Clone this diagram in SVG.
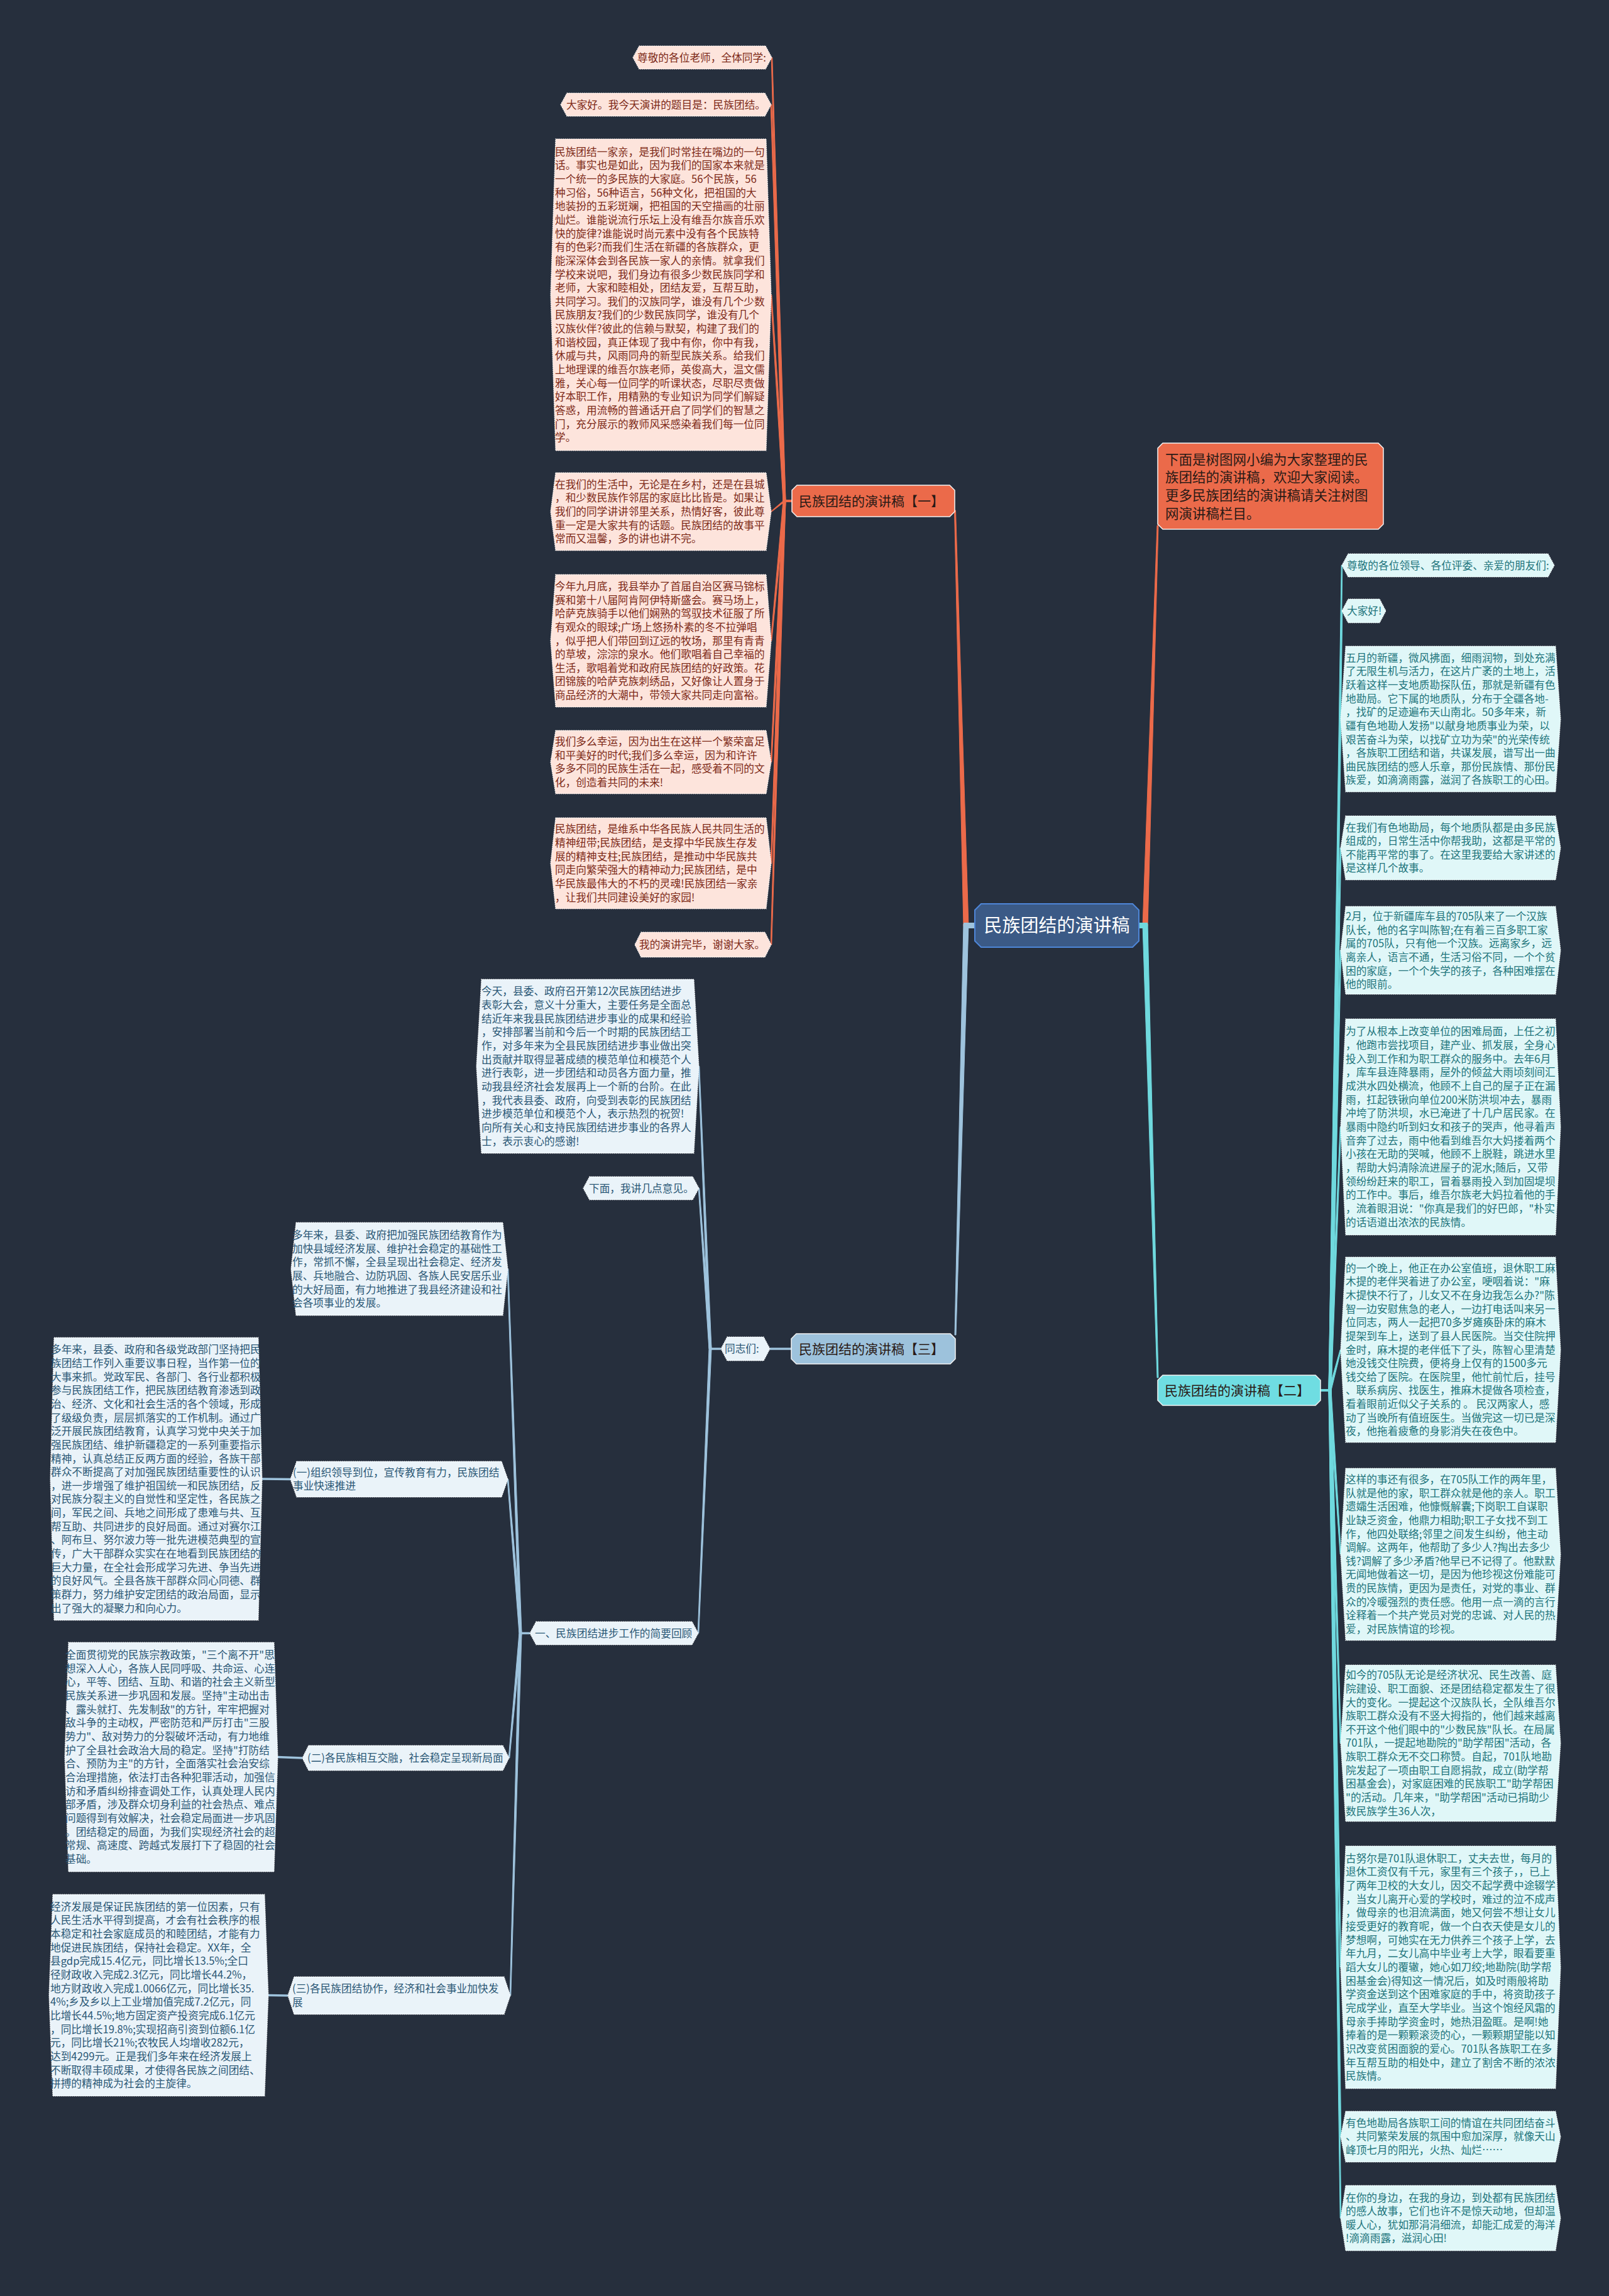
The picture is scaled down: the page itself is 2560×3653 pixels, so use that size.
<svg xmlns="http://www.w3.org/2000/svg" width="2560" height="3653" viewBox="0 0 2560 3653">
<style>
text{font-family:"Noto Sans CJK SC","Noto Sans",sans-serif}
.bgc{fill:#262f3d}
.lf1{fill:#fde4dc;stroke:#ffffff;stroke-width:1.2;stroke-dasharray:1.5 1.5}
.lf2{fill:#e0f7f8;stroke:#ffffff;stroke-width:1.2;stroke-dasharray:1.5 1.5}
.lf3{fill:#eaf3f9;stroke:#ffffff;stroke-width:1.2;stroke-dasharray:1.5 1.5}
.t1{font-size:16.7px;fill:#7e2a18}
.t2{font-size:16.7px;fill:#21757c}
.t3{font-size:16.7px;fill:#2b5876}
.mo{fill:#eb6a4a;stroke:#f4f4f4;stroke-width:1.5}
.mc{fill:#6fdde2;stroke:#f4f4f4;stroke-width:1.5}
.mb{fill:#9dc2dc;stroke:#f4f4f4;stroke-width:1.5}
.mt{font-size:21px;fill:#2a1a16}
.co{fill:#eb6a4a;stroke:#eb6a4a;stroke-width:1}
.cc{fill:#6fd9de;stroke:#6fd9de;stroke-width:1}
.cb{fill:#9ec3dd;stroke:#9ec3dd;stroke-width:1}
.sb{stroke:#9ec3dd;stroke-width:3.5;fill:none}
</style>
<rect class="bgc" x="0" y="0" width="2560" height="3653"/>
<g id="connectors">
<polygon class="co" points="1533,1474 1541,1474 1520.5,812 1518.5,812"/>
<polygon class="cb" points="1533,1470 1541,1470 1521,2124 1519,2124"/>
<polygon class="co" points="1818,1474 1826,1474 1843,836 1841,836"/>
<polygon class="cc" points="1818,1470 1826,1470 1843,2192 1841,2192"/>
<rect x="1533" y="1468" width="19" height="9" fill="#9ec3dd"/>
<rect x="1811" y="1468" width="15" height="9" fill="#6fd9de"/>
<rect x="1245" y="795" width="16" height="4" fill="#eb6a4a"/>
<polygon class="co" points="1246,797 1250,797 1228.8,91.5 1227.2,91.5"/>
<polygon class="co" points="1246,797 1250,797 1227.8,166.5 1226.2,166.5"/>
<polygon class="co" points="1246,797 1250,797 1227.8,469 1226.2,469"/>
<polygon class="co" points="1246,797 1250,797 1227.8,814 1226.2,814"/>
<polygon class="co" points="1246,797 1250,797 1227.8,1019.5 1226.2,1019.5"/>
<polygon class="co" points="1246,797 1250,797 1227.8,1212.5 1226.2,1212.5"/>
<polygon class="co" points="1246,797 1250,797 1227.8,1373.5 1226.2,1373.5"/>
<polygon class="co" points="1246,797 1250,797 1227.8,1503 1226.2,1503"/>
<rect x="2100" y="2210" width="18" height="4" fill="#6fd9de"/>
<polygon class="cc" points="2114,2212 2118,2212 2135.8,899.5 2134.2,899.5"/>
<polygon class="cc" points="2114,2212 2118,2212 2135.8,972 2134.2,972"/>
<polygon class="cc" points="2114,2212 2118,2212 2133.8,1144 2132.2,1144"/>
<polygon class="cc" points="2114,2212 2118,2212 2133.8,1349 2132.2,1349"/>
<polygon class="cc" points="2114,2212 2118,2212 2133.8,1512 2132.2,1512"/>
<polygon class="cc" points="2114,2212 2118,2212 2133.8,1793 2132.2,1793"/>
<polygon class="cc" points="2114,2212 2118,2212 2133.8,2147.5 2132.2,2147.5"/>
<polygon class="cc" points="2114,2212 2118,2212 2133.8,2473 2132.2,2473"/>
<polygon class="cc" points="2114,2212 2118,2212 2133.8,2773.5 2132.2,2773.5"/>
<polygon class="cc" points="2114,2212 2118,2212 2133.8,3130 2132.2,3130"/>
<polygon class="cc" points="2114,2212 2118,2212 2133.8,3399.5 2132.2,3399.5"/>
<polygon class="cc" points="2114,2212 2118,2212 2133.8,3529 2132.2,3529"/>
<line class="sb" x1="1259" y1="2146" x2="1225" y2="2146"/>
<line class="sb" x1="1147" y1="2146" x2="1128" y2="2146"/>
<polygon class="cb" points="1128,2146 1132,2146 1112.8,1696.5 1111.2,1696.5"/>
<polygon class="cb" points="1128,2146 1132,2146 1112.8,1890.5 1111.2,1890.5"/>
<polygon class="cb" points="1128,2146 1132,2146 1111.8,2598.5 1110.2,2598.5"/>
<line class="sb" x1="843" y1="2598.5" x2="826" y2="2598.5"/>
<polygon class="cb" points="826,2598.5 830,2598.5 808.8,2019 807.2,2019"/>
<polygon class="cb" points="826,2598.5 830,2598.5 808.8,2353.5 807.2,2353.5"/>
<polygon class="cb" points="826,2598.5 830,2598.5 810.8,2797 809.2,2797"/>
<polygon class="cb" points="826,2598.5 830,2598.5 812.8,3175 811.2,3175"/>
<line class="sb" x1="462" y1="2353.5" x2="417" y2="2353"/>
<line class="sb" x1="481" y1="2797" x2="442" y2="2795.5"/>
<line class="sb" x1="458" y1="3175" x2="427" y2="3174.5"/>
</g>
<g id="center">
<polygon points="1561,1438 1802,1438 1812,1448 1812,1497 1802,1507 1561,1507 1551,1497 1551,1448" fill="#3b5a86" stroke="#4e86d8" stroke-width="2"/>
<text x="1681.5" y="1482.5" font-size="29" fill="#ffffff" text-anchor="middle">民族团结的演讲稿</text>
</g>
<g id="intro">
<polygon class="mo" points="1850,705 2193,705 2201,713 2201,834 2193,842 1850,842 1842,834 1842,713"/>
<text x="1854" y="738.5" font-size="21.5" fill="#2a1a16"><tspan x="1854">下面是树图网小编为大家整理的民</tspan><tspan x="1854" dy="28.8">族团结的演讲稿，欢迎大家阅读。</tspan><tspan x="1854" dy="28.8">更多民族团结的演讲稿请关注树图</tspan><tspan x="1854" dy="28.8">网演讲稿栏目。</tspan></text>
</g>
<g id="speech1">
<polygon class="mo" points="1268,772 1511,772 1519,780 1519,814 1511,822 1268,822 1260,814 1260,780"/>
<text class="mt" x="1271" y="804.5">民族团结的演讲稿【一】</text>
</g>
<g id="s1-greet">
<polygon class="lf1" points="1017,73 1218,73 1228,91.5 1218,110 1017,110 1007,91.5"/>
<text class="t1" x="1014" y="97.5">尊敬的各位老师，全体同学:</text>
</g>
<g id="s1-title">
<polygon class="lf1" points="902,148 1217,148 1227,166.5 1217,185 902,185 892,166.5"/>
<text class="t1" x="901" y="172.5">大家好。我今天演讲的题目是：民族团结。</text>
</g>
<g id="s1-p1">
<polygon class="lf1" points="884,221 1219,221 1227,469 1219,717 884,717 876,469"/>
<text class="t1" y="247.7"><tspan x="883">民族团结一家亲，是我们时常挂在嘴边的一句</tspan><tspan x="883" dy="21.65">话。事实也是如此，因为我们的国家本来就是</tspan><tspan x="883" dy="21.65">一个统一的多民族的大家庭。56个民族，56</tspan><tspan x="883" dy="21.65">种习俗，56种语言，56种文化，把祖国的大</tspan><tspan x="883" dy="21.65">地装扮的五彩斑斓，把祖国的天空描画的壮丽</tspan><tspan x="883" dy="21.65">灿烂。谁能说流行乐坛上没有维吾尔族音乐欢</tspan><tspan x="883" dy="21.65">快的旋律?谁能说时尚元素中没有各个民族特</tspan><tspan x="883" dy="21.65">有的色彩?而我们生活在新疆的各族群众，更</tspan><tspan x="883" dy="21.65">能深深体会到各民族一家人的亲情。就拿我们</tspan><tspan x="883" dy="21.65">学校来说吧，我们身边有很多少数民族同学和</tspan><tspan x="883" dy="21.65">老师，大家和睦相处，团结友爱，互帮互助，</tspan><tspan x="883" dy="21.65">共同学习。我们的汉族同学，谁没有几个少数</tspan><tspan x="883" dy="21.65">民族朋友?我们的少数民族同学，谁没有几个</tspan><tspan x="883" dy="21.65">汉族伙伴?彼此的信赖与默契，构建了我们的</tspan><tspan x="883" dy="21.65">和谐校园，真正体现了我中有你，你中有我，</tspan><tspan x="883" dy="21.65">休戚与共，风雨同舟的新型民族关系。给我们</tspan><tspan x="883" dy="21.65">上地理课的维吾尔族老师，英俊高大，温文儒</tspan><tspan x="883" dy="21.65">雅，关心每一位同学的听课状态，尽职尽责做</tspan><tspan x="883" dy="21.65">好本职工作，用精熟的专业知识为同学们解疑</tspan><tspan x="883" dy="21.65">答惑，用流畅的普通话开启了同学们的智慧之</tspan><tspan x="883" dy="21.65">门，充分展示的教师风采感染着我们每一位同</tspan><tspan x="883" dy="21.65">学。</tspan></text>
</g>
<g id="s1-p2">
<polygon class="lf1" points="884,752 1219,752 1227,814 1219,876 884,876 876,814"/>
<text class="t1" y="776.7"><tspan x="883">在我们的生活中，无论是在乡村，还是在县城</tspan><tspan x="883" dy="21.65">，和少数民族作邻居的家庭比比皆是。如果让</tspan><tspan x="883" dy="21.65">我们的同学讲讲邻里关系，热情好客，彼此尊</tspan><tspan x="883" dy="21.65">重一定是大家共有的话题。民族团结的故事平</tspan><tspan x="883" dy="21.65">常而又温馨，多的讲也讲不完。</tspan></text>
</g>
<g id="s1-p3">
<polygon class="lf1" points="884,914 1219,914 1227,1019.5 1219,1125 884,1125 876,1019.5"/>
<text class="t1" y="938.9"><tspan x="883">今年九月底，我县举办了首届自治区赛马锦标</tspan><tspan x="883" dy="21.65">赛和第十八届阿肯阿伊特斯盛会。赛马场上，</tspan><tspan x="883" dy="21.65">哈萨克族骑手以他们娴熟的驾驭技术征服了所</tspan><tspan x="883" dy="21.65">有观众的眼球;广场上悠扬朴素的冬不拉弹唱</tspan><tspan x="883" dy="21.65">，似乎把人们带回到辽远的牧场，那里有青青</tspan><tspan x="883" dy="21.65">的草坡，淙淙的泉水。他们歌唱着自己幸福的</tspan><tspan x="883" dy="21.65">生活，歌唱着党和政府民族团结的好政策。花</tspan><tspan x="883" dy="21.65">团锦簇的哈萨克族刺绣品，又好像让人置身于</tspan><tspan x="883" dy="21.65">商品经济的大潮中，带领大家共同走向富裕。</tspan></text>
</g>
<g id="s1-p4">
<polygon class="lf1" points="884,1162 1219,1162 1227,1212.5 1219,1263 884,1263 876,1212.5"/>
<text class="t1" y="1186"><tspan x="883">我们多么幸运，因为出生在这样一个繁荣富足</tspan><tspan x="883" dy="21.65">和平美好的时代;我们多么幸运，因为和许许</tspan><tspan x="883" dy="21.65">多多不同的民族生活在一起，感受着不同的文</tspan><tspan x="883" dy="21.65">化，创造着共同的未来!</tspan></text>
</g>
<g id="s1-p5">
<polygon class="lf1" points="884,1301 1219,1301 1227,1373.5 1219,1446 884,1446 876,1373.5"/>
<text class="t1" y="1325.4"><tspan x="883">民族团结，是维系中华各民族人民共同生活的</tspan><tspan x="883" dy="21.65">精神纽带;民族团结，是支撑中华民族生存发</tspan><tspan x="883" dy="21.65">展的精神支柱;民族团结，是推动中华民族共</tspan><tspan x="883" dy="21.65">同走向繁荣强大的精神动力;民族团结，是中</tspan><tspan x="883" dy="21.65">华民族最伟大的不朽的灵魂!民族团结一家亲</tspan><tspan x="883" dy="21.65">，让我们共同建设美好的家园!</tspan></text>
</g>
<g id="s1-end">
<polygon class="lf1" points="1020,1483 1217,1483 1227,1503 1217,1523 1020,1523 1010,1503"/>
<text class="t1" x="1017" y="1509">我的演讲完毕，谢谢大家。</text>
</g>
<g id="speech2">
<polygon class="mc" points="1850,2188 2093,2188 2101,2196 2101,2228 2093,2236 1850,2236 1842,2228 1842,2196"/>
<text class="mt" x="1853" y="2219.5" fill="#16404a">民族团结的演讲稿【二】</text>
</g>
<g id="s2-greet">
<polygon class="lf2" points="2145,881 2463,881 2473,899.5 2463,918 2145,918 2135,899.5"/>
<text class="t2" x="2143" y="905.5">尊敬的各位领导、各位评委、亲爱的朋友们:</text>
</g>
<g id="s2-hello">
<polygon class="lf2" points="2145,953 2195,953 2205,972 2195,991 2145,991 2135,972"/>
<text class="t2" x="2143" y="978">大家好!</text>
</g>
<g id="s2-p1">
<polygon class="lf2" points="2141,1028 2475,1028 2483,1144 2475,1260 2141,1260 2133,1144"/>
<text class="t2" y="1052.6"><tspan x="2141">五月的新疆，微风拂面，细雨润物，到处充满</tspan><tspan x="2141" dy="21.65">了无限生机与活力，在这片广袤的土地上，活</tspan><tspan x="2141" dy="21.65">跃着这样一支地质勘探队伍，那就是新疆有色</tspan><tspan x="2141" dy="21.65">地勘局。它下属的地质队，分布于全疆各地-</tspan><tspan x="2141" dy="21.65">，找矿的足迹遍布天山南北。50多年来，新</tspan><tspan x="2141" dy="21.65">疆有色地勘人发扬"以献身地质事业为荣，以</tspan><tspan x="2141" dy="21.65">艰苦奋斗为荣，以找矿立功为荣"的光荣传统</tspan><tspan x="2141" dy="21.65">，各族职工团结和谐，共谋发展，谱写出一曲</tspan><tspan x="2141" dy="21.65">曲民族团结的感人乐章，那份民族情、那份民</tspan><tspan x="2141" dy="21.65">族爱，如滴滴雨露，滋润了各族职工的心田。</tspan></text>
</g>
<g id="s2-p2">
<polygon class="lf2" points="2141,1298 2475,1298 2483,1349 2475,1400 2141,1400 2133,1349"/>
<text class="t2" y="1322.5"><tspan x="2141">在我们有色地勘局，每个地质队都是由多民族</tspan><tspan x="2141" dy="21.65">组成的，日常生活中你帮我助，这都是平常的</tspan><tspan x="2141" dy="21.65">不能再平常的事了。在这里我要给大家讲述的</tspan><tspan x="2141" dy="21.65">是这样几个故事。</tspan></text>
</g>
<g id="s2-p3">
<polygon class="lf2" points="2141,1442 2475,1442 2483,1512 2475,1582 2141,1582 2133,1512"/>
<text class="t2" y="1463.9"><tspan x="2141">2月，位于新疆库车县的705队来了一个汉族</tspan><tspan x="2141" dy="21.65">队长，他的名字叫陈智;在有着三百多职工家</tspan><tspan x="2141" dy="21.65">属的705队，只有他一个汉族。远离家乡，远</tspan><tspan x="2141" dy="21.65">离亲人，语言不通，生活习俗不同，一个个贫</tspan><tspan x="2141" dy="21.65">困的家庭，一个个失学的孩子，各种困难摆在</tspan><tspan x="2141" dy="21.65">他的眼前。</tspan></text>
</g>
<g id="s2-p4">
<polygon class="lf2" points="2141,1621 2475,1621 2483,1793 2475,1965 2141,1965 2133,1793"/>
<text class="t2" y="1647.4"><tspan x="2141">为了从根本上改变单位的困难局面，上任之初</tspan><tspan x="2141" dy="21.65">，他跑市尝找项目，建产业、抓发展，全身心</tspan><tspan x="2141" dy="21.65">投入到工作和为职工群众的服务中。去年6月</tspan><tspan x="2141" dy="21.65">，库车县连降暴雨，屋外的倾盆大雨顷刻间汇</tspan><tspan x="2141" dy="21.65">成洪水四处横流，他顾不上自己的屋子正在漏</tspan><tspan x="2141" dy="21.65">雨，扛起铁锹向单位200米防洪坝冲去，暴雨</tspan><tspan x="2141" dy="21.65">冲垮了防洪坝，水已淹进了十几户居民家。在</tspan><tspan x="2141" dy="21.65">暴雨中隐约听到妇女和孩子的哭声，他寻着声</tspan><tspan x="2141" dy="21.65">音奔了过去，雨中他看到维吾尔大妈搂着两个</tspan><tspan x="2141" dy="21.65">小孩在无助的哭喊，他顾不上脱鞋，跳进水里</tspan><tspan x="2141" dy="21.65">，帮助大妈清除流进屋子的泥水;随后，又带</tspan><tspan x="2141" dy="21.65">领纷纷赶来的职工，冒着暴雨投入到加固堤坝</tspan><tspan x="2141" dy="21.65">的工作中。事后，维吾尔族老大妈拉着他的手</tspan><tspan x="2141" dy="21.65">，流着眼泪说："你真是我们的好巴郎，"朴实</tspan><tspan x="2141" dy="21.65">的话语道出浓浓的民族情。</tspan></text>
</g>
<g id="s2-p5">
<polygon class="lf2" points="2141,2000 2475,2000 2483,2147.5 2475,2295 2141,2295 2133,2147.5"/>
<text class="t2" y="2023.6"><tspan x="2141">的一个晚上，他正在办公室值班，退休职工麻</tspan><tspan x="2141" dy="21.65">木提的老伴哭着进了办公室，哽咽着说："麻</tspan><tspan x="2141" dy="21.65">木提快不行了，儿女又不在身边我怎么办?"陈</tspan><tspan x="2141" dy="21.65">智一边安慰焦急的老人，一边打电话叫来另一</tspan><tspan x="2141" dy="21.65">位同志，两人一起把70多岁瘫痪卧床的麻木</tspan><tspan x="2141" dy="21.65">提架到车上，送到了县人民医院。当交住院押</tspan><tspan x="2141" dy="21.65">金时，麻木提的老伴低下了头，陈智心里清楚</tspan><tspan x="2141" dy="21.65">她没钱交住院费，便将身上仅有的1500多元</tspan><tspan x="2141" dy="21.65">钱交给了医院。在医院里，他忙前忙后，挂号</tspan><tspan x="2141" dy="21.65">、联系病房、找医生，推麻木提做各项检查，</tspan><tspan x="2141" dy="21.65">看着眼前近似父子关系的 。 民汉两家人，感</tspan><tspan x="2141" dy="21.65">动了当晚所有值班医生。当做完这一切已是深</tspan><tspan x="2141" dy="21.65">夜，他拖着疲惫的身影消失在夜色中。</tspan></text>
</g>
<g id="s2-p6">
<polygon class="lf2" points="2141,2336 2475,2336 2483,2473 2475,2610 2141,2610 2133,2473"/>
<text class="t2" y="2359.9"><tspan x="2141">这样的事还有很多，在705队工作的两年里，</tspan><tspan x="2141" dy="21.65">队就是他的家，职工群众就是他的亲人。职工</tspan><tspan x="2141" dy="21.65">遗孀生活困难，他慷慨解囊;下岗职工自谋职</tspan><tspan x="2141" dy="21.65">业缺乏资金，他鼎力相助;职工子女找不到工</tspan><tspan x="2141" dy="21.65">作，他四处联络;邻里之间发生纠纷，他主动</tspan><tspan x="2141" dy="21.65">调解。这两年，他帮助了多少人?掏出去多少</tspan><tspan x="2141" dy="21.65">钱?调解了多少矛盾?他早已不记得了。他默默</tspan><tspan x="2141" dy="21.65">无闻地做着这一切，是因为他珍视这份难能可</tspan><tspan x="2141" dy="21.65">贵的民族情，更因为是责任，对党的事业、群</tspan><tspan x="2141" dy="21.65">众的冷暖强烈的责任感。他用一点一滴的言行</tspan><tspan x="2141" dy="21.65">诠释着一个共产党员对党的忠诚、对人民的热</tspan><tspan x="2141" dy="21.65">爱，对民族情谊的珍视。</tspan></text>
</g>
<g id="s2-p7">
<polygon class="lf2" points="2141,2649 2475,2649 2483,2773.5 2475,2898 2141,2898 2133,2773.5"/>
<text class="t2" y="2671.2"><tspan x="2141">如今的705队无论是经济状况、民生改善、庭</tspan><tspan x="2141" dy="21.65">院建设、职工面貌、还是团结稳定都发生了很</tspan><tspan x="2141" dy="21.65">大的变化。一提起这个汉族队长，全队维吾尔</tspan><tspan x="2141" dy="21.65">族职工群众没有不竖大拇指的，他们越来越离</tspan><tspan x="2141" dy="21.65">不开这个他们眼中的"少数民族"队长。在局属</tspan><tspan x="2141" dy="21.65">701队，一提起地勘院的"助学帮困"活动，各</tspan><tspan x="2141" dy="21.65">族职工群众无不交口称赞。自起，701队地勘</tspan><tspan x="2141" dy="21.65">院发起了一项由职工自愿捐款，成立(助学帮</tspan><tspan x="2141" dy="21.65">困基金会)，对家庭困难的民族职工"助学帮困</tspan><tspan x="2141" dy="21.65">"的活动。几年来，"助学帮困"活动已捐助少</tspan><tspan x="2141" dy="21.65">数民族学生36人次，</tspan></text>
</g>
<g id="s2-p8">
<polygon class="lf2" points="2141,2937 2475,2937 2483,3130 2475,3323 2141,3323 2133,3130"/>
<text class="t2" y="2962.8"><tspan x="2141">古努尔是701队退休职工，丈夫去世，每月的</tspan><tspan x="2141" dy="21.65">退休工资仅有千元，家里有三个孩子，，已上</tspan><tspan x="2141" dy="21.65">了两年卫校的大女儿，因交不起学费中途辍学</tspan><tspan x="2141" dy="21.65">，当女儿离开心爱的学校时，难过的泣不成声</tspan><tspan x="2141" dy="21.65">，做母亲的也泪流满面，她又何尝不想让女儿</tspan><tspan x="2141" dy="21.65">接受更好的教育呢，做一个白衣天使是女儿的</tspan><tspan x="2141" dy="21.65">梦想啊，可她实在无力供养三个孩子上学，去</tspan><tspan x="2141" dy="21.65">年九月，二女儿高中毕业考上大学，眼看要重</tspan><tspan x="2141" dy="21.65">蹈大女儿的覆辙，她心如刀绞;地勘院(助学帮</tspan><tspan x="2141" dy="21.65">困基金会)得知这一情况后，如及时雨般将助</tspan><tspan x="2141" dy="21.65">学资金送到这个困难家庭的手中，将资助孩子</tspan><tspan x="2141" dy="21.65">完成学业，直至大学毕业。当这个饱经风霜的</tspan><tspan x="2141" dy="21.65">母亲手捧助学资金时，她热泪盈眶。是啊!她</tspan><tspan x="2141" dy="21.65">捧着的是一颗颗滚烫的心，一颗颗期望能以知</tspan><tspan x="2141" dy="21.65">识改变贫困面貌的爱心。701队各族职工在多</tspan><tspan x="2141" dy="21.65">年互帮互助的相处中，建立了割舍不断的浓浓</tspan><tspan x="2141" dy="21.65">民族情。</tspan></text>
</g>
<g id="s2-p9">
<polygon class="lf2" points="2141,3359 2475,3359 2483,3399.5 2475,3440 2141,3440 2133,3399.5"/>
<text class="t2" y="3383.8"><tspan x="2141">有色地勘局各族职工间的情谊在共同团结奋斗</tspan><tspan x="2141" dy="21.65">、共同繁荣发展的氛围中愈加深厚，就像天山</tspan><tspan x="2141" dy="21.65">峰顶七月的阳光，火热、灿烂……</tspan></text>
</g>
<g id="s2-p10">
<polygon class="lf2" points="2141,3477 2475,3477 2483,3529 2475,3581 2141,3581 2133,3529"/>
<text class="t2" y="3502.5"><tspan x="2141">在你的身边，在我的身边，到处都有民族团结</tspan><tspan x="2141" dy="21.65">的感人故事，它们也许不是惊天动地，但却温</tspan><tspan x="2141" dy="21.65">暖人心，犹如那涓涓细流，却能汇成爱的海洋</tspan><tspan x="2141" dy="21.65">!滴滴雨露，滋润心田!</tspan></text>
</g>
<g id="speech3">
<polygon class="mb" points="1267,2122 1512,2122 1520,2130 1520,2162 1512,2170 1267,2170 1259,2162 1259,2130"/>
<text class="mt" x="1271" y="2153.5" fill="#1c3550">民族团结的演讲稿【三】</text>
</g>
<g id="s3-comrades">
<polygon class="lf3" points="1157,2127 1215,2127 1225,2146 1215,2165 1157,2165 1147,2146"/>
<text class="t3" x="1153" y="2152">同志们:</text>
</g>
<g id="s3-today">
<polygon class="lf3" points="766,1558 1104,1558 1112,1696.5 1104,1835 766,1835 758,1696.5"/>
<text class="t3" y="1583.4"><tspan x="766">今天，县委、政府召开第12次民族团结进步</tspan><tspan x="766" dy="21.65">表彰大会，意义十分重大，主要任务是全面总</tspan><tspan x="766" dy="21.65">结近年来我县民族团结进步事业的成果和经验</tspan><tspan x="766" dy="21.65">，安排部署当前和今后一个时期的民族团结工</tspan><tspan x="766" dy="21.65">作，对多年来为全县民族团结进步事业做出突</tspan><tspan x="766" dy="21.65">出贡献并取得显著成绩的模范单位和模范个人</tspan><tspan x="766" dy="21.65">进行表彰，进一步团结和动员各方面力量，推</tspan><tspan x="766" dy="21.65">动我县经济社会发展再上一个新的台阶。在此</tspan><tspan x="766" dy="21.65">，我代表县委、政府，向受到表彰的民族团结</tspan><tspan x="766" dy="21.65">进步模范单位和模范个人，表示热烈的祝贺!</tspan><tspan x="766" dy="21.65">向所有关心和支持民族团结进步事业的各界人</tspan><tspan x="766" dy="21.65">士，表示衷心的感谢!</tspan></text>
</g>
<g id="s3-points">
<polygon class="lf3" points="938,1872 1102,1872 1112,1890.5 1102,1909 938,1909 928,1890.5"/>
<text class="t3" x="937" y="1896.5">下面，我讲几点意见。</text>
</g>
<g id="s3-review">
<polygon class="lf3" points="853,2580 1101,2580 1111,2598.5 1101,2617 853,2617 843,2598.5"/>
<text class="t3" x="851" y="2604.5">一、民族团结进步工作的简要回顾</text>
</g>
<g id="s3-years">
<polygon class="lf3" points="471,1945 800,1945 808,2019 800,2093 471,2093 463,2019"/>
<text class="t3" y="1970.9"><tspan x="465">多年来，县委、政府把加强民族团结教育作为</tspan><tspan x="465" dy="21.65">加快县域经济发展、维护社会稳定的基础性工</tspan><tspan x="465" dy="21.65">作，常抓不懈，全县呈现出社会稳定、经济发</tspan><tspan x="465" dy="21.65">展、兵地融合、边防巩固、各族人民安居乐业</tspan><tspan x="465" dy="21.65">的大好局面，有力地推进了我县经济建设和社</tspan><tspan x="465" dy="21.65">会各项事业的发展。</tspan></text>
</g>
<g id="s3-one">
<polygon class="lf3" points="472,2325 798,2325 808,2353.5 798,2382 472,2382 462,2353.5"/>
<text class="t3" y="2348.7"><tspan x="466">(一)组织领导到位，宣传教育有力，民族团结</tspan><tspan x="466" dy="21.65">事业快速推进</tspan></text>
</g>
<g id="s3-one-p">
<polygon class="lf3" points="86,2128 411,2128 417,2353 411,2578 86,2578 80,2353"/>
<text class="t3" y="2153.3"><tspan x="81">多年来，县委、政府和各级党政部门坚持把民</tspan><tspan x="81" dy="21.65">族团结工作列入重要议事日程，当作第一位的</tspan><tspan x="81" dy="21.65">大事来抓。党政军民、各部门、各行业都积极</tspan><tspan x="81" dy="21.65">参与民族团结工作，把民族团结教育渗透到政</tspan><tspan x="81" dy="21.65">治、经济、文化和社会生活的各个领域，形成</tspan><tspan x="81" dy="21.65">了级级负责，层层抓落实的工作机制。通过广</tspan><tspan x="81" dy="21.65">泛开展民族团结教育，认真学习党中央关于加</tspan><tspan x="81" dy="21.65">强民族团结、维护新疆稳定的一系列重要指示</tspan><tspan x="81" dy="21.65">精神，认真总结正反两方面的经验，各族干部</tspan><tspan x="81" dy="21.65">群众不断提高了对加强民族团结重要性的认识</tspan><tspan x="81" dy="21.65">，进一步增强了维护祖国统一和民族团结，反</tspan><tspan x="81" dy="21.65">对民族分裂主义的自觉性和坚定性，各民族之</tspan><tspan x="81" dy="21.65">间，军民之间、兵地之间形成了患难与共、互</tspan><tspan x="81" dy="21.65">帮互助、共同进步的良好局面。通过对赛尔江</tspan><tspan x="81" dy="21.65">、阿布旦、努尔波力等一批先进模范典型的宣</tspan><tspan x="81" dy="21.65">传，广大干部群众实实在在地看到民族团结的</tspan><tspan x="81" dy="21.65">巨大力量，在全社会形成学习先进、争当先进</tspan><tspan x="81" dy="21.65">的良好风气。全县各族干部群众同心同德、群</tspan><tspan x="81" dy="21.65">策群力，努力维护安定团结的政治局面，显示</tspan><tspan x="81" dy="21.65">出了强大的凝聚力和向心力。</tspan></text>
</g>
<g id="s3-two">
<polygon class="lf3" points="491,2777 800,2777 810,2797 800,2817 491,2817 481,2797"/>
<text class="t3" x="489" y="2803">(二)各民族相互交融，社会稳定呈现新局面</text>
</g>
<g id="s3-two-p">
<polygon class="lf3" points="109,2613 436,2613 442,2795.5 436,2978 109,2978 103,2795.5"/>
<text class="t3" y="2639.1"><tspan x="104">全面贯彻党的民族宗教政策，"三个离不开"思</tspan><tspan x="104" dy="21.65">想深入人心，各族人民同呼吸、共命运、心连</tspan><tspan x="104" dy="21.65">心，平等、团结、互助、和谐的社会主义新型</tspan><tspan x="104" dy="21.65">民族关系进一步巩固和发展。坚持"主动出击</tspan><tspan x="104" dy="21.65">、露头就打、先发制敌"的方针，牢牢把握对</tspan><tspan x="104" dy="21.65">敌斗争的主动权，严密防范和严厉打击"三股</tspan><tspan x="104" dy="21.65">势力"、敌对势力的分裂破坏活动，有力地维</tspan><tspan x="104" dy="21.65">护了全县社会政治大局的稳定。坚持"打防结</tspan><tspan x="104" dy="21.65">合、预防为主"的方针，全面落实社会治安综</tspan><tspan x="104" dy="21.65">合治理措施，依法打击各种犯罪活动，加强信</tspan><tspan x="104" dy="21.65">访和矛盾纠纷排查调处工作，认真处理人民内</tspan><tspan x="104" dy="21.65">部矛盾，涉及群众切身利益的社会热点、难点</tspan><tspan x="104" dy="21.65">问题得到有效解决，社会稳定局面进一步巩固</tspan><tspan x="104" dy="21.65">。团结稳定的局面，为我们实现经济社会的超</tspan><tspan x="104" dy="21.65">常规、高速度、跨越式发展打下了稳固的社会</tspan><tspan x="104" dy="21.65">基础。</tspan></text>
</g>
<g id="s3-three">
<polygon class="lf3" points="468,3145 802,3145 812,3175 802,3205 468,3205 458,3175"/>
<text class="t3" y="3170.2"><tspan x="465">(三)各民族团结协作，经济和社会事业加快发</tspan><tspan x="465" dy="21.65">展</tspan></text>
</g>
<g id="s3-three-p">
<polygon class="lf3" points="84,3014 421,3014 427,3174.5 421,3335 84,3335 78,3174.5"/>
<text class="t3" y="3039.8"><tspan x="80">经济发展是保证民族团结的第一位因素，只有</tspan><tspan x="80" dy="21.65">人民生活水平得到提高，才会有社会秩序的根</tspan><tspan x="80" dy="21.65">本稳定和社会家庭成员的和睦团结，才能有力</tspan><tspan x="80" dy="21.65">地促进民族团结，保持社会稳定。XX年，全</tspan><tspan x="80" dy="21.65">县gdp完成15.4亿元，同比增长13.5%;全口</tspan><tspan x="80" dy="21.65">径财政收入完成2.3亿元，同比增长44.2%，</tspan><tspan x="80" dy="21.65">地方财政收入完成1.0066亿元，同比增长35.</tspan><tspan x="80" dy="21.65">4%;乡及乡以上工业增加值完成7.2亿元，同</tspan><tspan x="80" dy="21.65">比增长44.5%;地方固定资产投资完成6.1亿元</tspan><tspan x="80" dy="21.65">，同比增长19.8%;实现招商引资到位额6.1亿</tspan><tspan x="80" dy="21.65">元，同比增长21%;农牧民人均增收282元，</tspan><tspan x="80" dy="21.65">达到4299元。正是我们多年来在经济发展上</tspan><tspan x="80" dy="21.65">不断取得丰硕成果，才使得各民族之间团结、</tspan><tspan x="80" dy="21.65">拼搏的精神成为社会的主旋律。</tspan></text>
</g>
</svg>
